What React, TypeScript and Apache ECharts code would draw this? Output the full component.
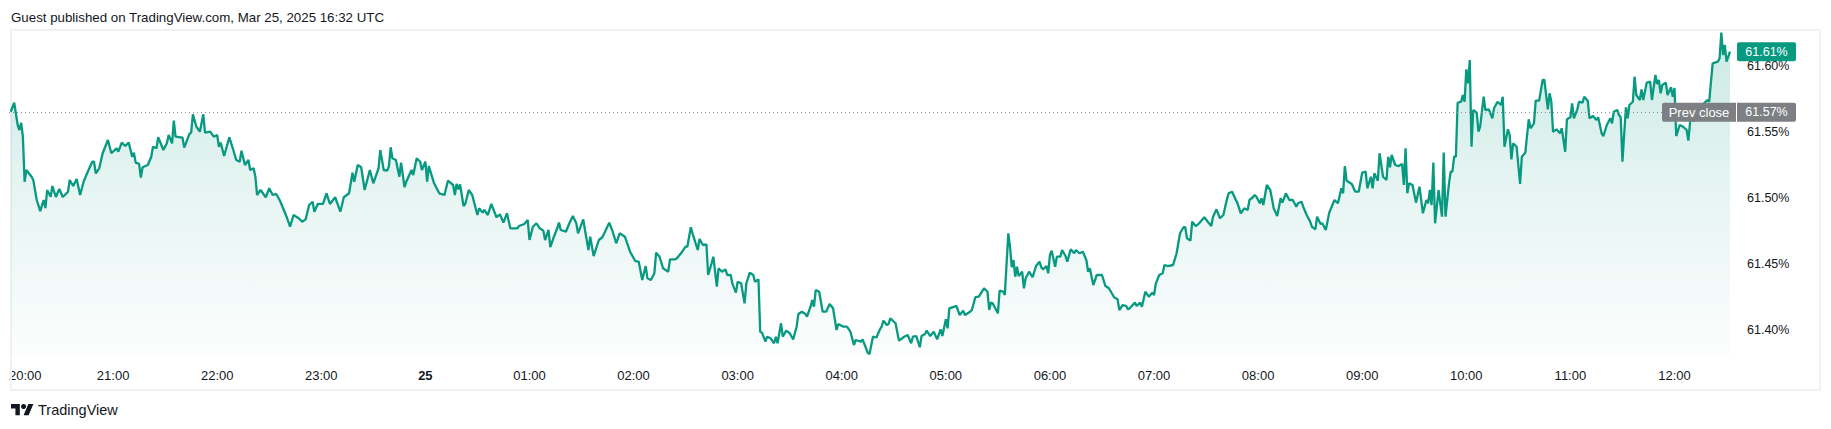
import React, { useEffect, useRef } from "react";
import * as echarts from "echarts";

// minutes after 20:00 (Mar 24) ; last point 12:32 (Mar 25)
const minutes = [
  1, 3, 5, 6, 7, 8, 9, 10, 13, 14, 16, 18, 20, 21, 22, 24, 25, 27, 29, 31, 34, 35, 37, 39, 41, 43, 45, 48, 49, 50,
  52, 54, 57, 59, 62, 63, 65, 67, 69, 71, 72, 73, 75, 76, 77, 80, 82, 83, 85, 86, 89, 91, 92, 94, 95, 96, 100, 101, 104, 105,
  106, 108, 110, 112, 113, 116, 118, 120, 121, 122, 124, 127, 129, 131, 133, 134, 136, 138, 139, 141, 142, 143, 145, 148, 150, 152, 154, 156, 158, 160,
  162, 164, 167, 169, 171, 173, 175, 176, 178, 181, 183, 185, 188, 191, 193, 196, 198, 199, 201, 203, 205, 208, 210, 213, 214, 216, 218, 219, 220, 221,
  223, 225, 226, 228, 229, 232, 233, 235, 237, 238, 240, 241, 242, 245, 248, 251, 253, 256, 257, 258, 259, 260, 262, 263, 265, 267, 270, 271, 273, 274,
  276, 278, 281, 283, 285, 287, 289, 293, 294, 297, 299, 300, 302, 304, 306, 308, 309, 311, 312, 314, 316, 317, 318, 321, 323, 325, 327, 328, 331, 332,
  334, 335, 337, 340, 342, 344, 346, 348, 350, 352, 355, 358, 361, 363, 365, 367, 368, 370, 372, 373, 375, 377, 380, 381, 384, 385, 388, 390, 391, 393,
  394, 397, 398, 400, 402, 403, 405, 406, 408, 409, 411, 413, 414, 416, 417, 419, 420, 422, 424, 425, 427, 429, 430, 432, 433, 434, 436, 437, 439, 441,
  442, 443, 445, 446, 448, 450, 452, 454, 455, 457, 459, 460, 462, 463, 464, 465, 467, 469, 471, 473, 475, 477, 478, 481, 483, 485, 487, 488, 491, 492,
  495, 496, 498, 500, 502, 503, 504, 506, 507, 508, 511, 513, 516, 518, 520, 521, 523, 525, 526, 528, 529, 531, 533, 535, 537, 538, 540, 541, 542, 545,
  546, 548, 550, 551, 554, 555, 557, 559, 562, 564, 565, 566, 567, 570, 571, 573, 574, 576, 577, 578, 579, 580, 581, 582, 584, 585, 586, 588, 590, 592,
  594, 595, 596, 598, 599, 600, 601, 603, 604, 606, 607, 609, 610, 612, 614, 615, 617, 619, 621, 622, 623, 625, 627, 630, 632, 634, 637, 639, 640, 642,
  644, 645, 646, 649, 650, 652, 653, 655, 657, 659, 660, 661, 663, 665, 666, 668, 671, 673, 675, 677, 678, 679, 681, 682, 684, 686, 688, 689, 691, 693,
  694, 696, 698, 700, 702, 703, 705, 707, 708, 710, 712, 714, 715, 717, 718, 719, 721, 722, 723, 725, 727, 729, 731, 733, 734, 736, 738, 740, 742, 743,
  745, 746, 748, 750, 751, 753, 754, 756, 757, 759, 761, 764, 766, 768, 769, 770, 771, 774, 776, 778, 780, 782, 783, 785, 786, 787, 789, 790, 792, 794,
  795, 796, 797, 799, 801, 803, 804, 805, 806, 807, 809, 811, 813, 815, 817, 818, 819, 820, 821, 822, 824, 826, 827, 828, 830, 831, 832, 833, 834, 835,
  837, 838, 839, 840, 841, 842, 843, 844, 846, 847, 848, 850, 851, 853, 855, 856, 857, 858, 860, 861, 862, 864, 865, 866, 867, 869, 871, 872, 874, 876,
  877, 879, 880, 882, 884, 885, 887, 888, 889, 890, 892, 894, 895, 897, 898, 900, 901, 902, 904, 905, 907, 908, 910, 911, 913, 915, 916, 918, 919, 921,
  923, 924, 925, 927, 928, 929, 930, 932, 933, 934, 936, 937, 938, 940, 941, 942, 944, 946, 947, 949, 950, 951, 952, 953, 955, 956, 958, 959, 960, 961,
  963, 965, 967, 968, 970, 971, 972, 974, 977, 979, 980, 982, 985, 986, 987, 988, 989, 990, 992,
];

// yield, %
const values = [
  61.5656, 61.5724, 61.5555, 61.5517, 61.5572, 61.5466, 61.5124, 61.5213, 61.5162, 61.5137, 61.4985, 61.4901, 61.4985, 61.4924, 61.5061, 61.501, 61.5091, 61.5008, 61.5069, 61.5008, 61.5048, 61.5137, 61.5091, 61.5145, 61.5023, 61.5124, 61.5188, 61.5276, 61.5276, 61.5188,
  61.5226, 61.534, 61.5441, 61.534, 61.5378, 61.5352, 61.5421, 61.5395, 61.5421, 61.5314, 61.5345, 61.5269, 61.5259, 61.5155, 61.5234, 61.5251, 61.5314, 61.539, 61.5378, 61.5462, 61.5365, 61.5416, 61.5479, 61.5416, 61.5588, 61.5466, 61.5459, 61.5383, 61.5487, 61.5497,
  61.5636, 61.5542, 61.5504, 61.5636, 61.5497, 61.5504, 61.5466, 61.5479, 61.539, 61.5421, 61.5319, 61.5462, 61.5378, 61.5289, 61.5276, 61.536, 61.5251, 61.5289, 61.5213, 61.5226, 61.5162, 61.5023, 61.5061, 61.5006, 61.5074, 61.5023, 61.5031, 61.4985, 61.4922, 61.4858,
  61.4782, 61.4871, 61.4846, 61.482, 61.4838, 61.4947, 61.4972, 61.4896, 61.4955, 61.4955, 61.5036, 61.4955, 61.5006, 61.4896, 61.5006, 61.5036, 61.5193, 61.5124, 61.5251, 61.5234, 61.5061, 61.5213, 61.5112, 61.5226, 61.5365, 61.5213, 61.5208, 61.5243, 61.5386, 61.5302,
  61.5289, 61.5162, 61.5269, 61.5082, 61.5124, 61.5213, 61.5175, 61.5302, 61.5276, 61.5213, 61.5276, 61.5124, 61.5243, 61.5112, 61.5036, 61.5023, 61.5132, 61.5099, 61.5023, 61.5107, 61.5066, 61.5104, 61.4939, 61.4955, 61.5061, 61.5023, 61.4871, 61.4922, 61.4889, 61.4909,
  61.4871, 61.4955, 61.4854, 61.4876, 61.4813, 61.4884, 61.477, 61.477, 61.4787, 61.4803, 61.4833, 61.4681, 61.4782, 61.4808, 61.477, 61.4752, 61.4681, 61.4757, 61.4626, 61.4702, 61.477, 61.4813, 61.4757, 61.4744, 61.4808, 61.4863, 61.4808, 61.4732, 61.4838, 61.4757,
  61.4605, 61.4706, 61.4559, 61.4681, 61.4702, 61.4757, 61.4813, 61.4744, 61.4656, 61.4732, 61.4706, 61.4592, 61.4521, 61.4516, 61.4377, 61.4483, 61.439, 61.4377, 61.4428, 61.4585, 61.4554, 61.4466, 61.444, 61.4534, 61.4534, 61.4542, 61.4592, 61.463, 61.463, 61.4778,
  61.4732, 61.4605, 61.4689, 61.4643, 61.4648, 61.4415, 61.4504, 61.4554, 61.4326, 61.4466, 61.444, 61.4458, 61.4415, 61.4415, 61.4347, 61.4281, 61.4364, 61.4352, 61.42, 61.4352, 61.4433, 61.4415, 61.4364, 61.4382, 61.3984, 61.3977, 61.3908, 61.3946, 61.3934, 61.3896,
  61.3946, 61.3896, 61.4048, 61.3946, 61.3992, 61.3972, 61.3926, 61.4022, 61.4119, 61.4136, 61.4119, 61.4098, 61.4174, 61.4225, 61.4174, 61.4301, 61.4288, 61.4136, 61.4136, 61.4195, 61.4162, 61.3997, 61.4043, 61.4022, 61.4022, 61.3984, 61.3883, 61.3921, 61.3908, 61.3926,
  61.3824, 61.3815, 61.3946, 61.394, 61.4002, 61.4022, 61.4068, 61.4035, 61.4043, 61.4086, 61.4048, 61.3916, 61.3946, 61.3959, 61.3896, 61.3946, 61.3951, 61.3866, 61.3951, 61.3967, 61.3992, 61.3951, 61.3984, 61.3926, 61.4002, 61.3951, 61.4078, 61.401, 61.4162, 61.4174,
  61.4182, 61.4111, 61.4144, 61.4111, 61.4136, 61.4149, 61.4246, 61.425, 61.4314, 61.4288, 61.4149, 61.4205, 61.42, 61.4124, 61.4296, 61.4288, 61.4263, 61.4732, 61.463, 61.4474, 61.4529, 61.4402, 61.4478, 61.4407, 61.444, 61.4314, 61.439, 61.444, 61.4398, 61.4483,
  61.4516, 61.4474, 61.4458, 61.4483, 61.4428, 61.4567, 61.46, 61.4478, 61.4554, 61.4554, 61.4605, 61.4559, 61.4516, 61.461, 61.458, 61.4605, 61.458, 61.4592, 61.4529, 61.444, 61.4466, 61.4339, 61.4415, 61.4415, 61.4331, 61.4314, 61.4246, 61.423, 61.4149, 61.4187,
  61.4179, 61.4154, 61.4162, 61.4205, 61.4179, 61.4205, 61.4174, 61.4288, 61.425, 61.4281, 61.4263, 61.4347, 61.4415, 61.4428, 61.4491, 61.4483, 61.4491, 61.458, 61.4732, 61.4778, 61.4778, 61.4694, 61.4676, 61.482, 61.4787, 61.4808, 61.4838, 61.4854, 61.482, 61.4787,
  61.4858, 61.4914, 61.4846, 61.4871, 61.499, 61.5036, 61.5048, 61.499, 61.4965, 61.4884, 61.4922, 61.4909, 61.4985, 61.5006, 61.5023, 61.501, 61.496, 61.4998, 61.4947, 61.5099, 61.5061, 61.4922, 61.4863, 61.4998, 61.4965, 61.5036, 61.4985, 61.4985, 61.4934, 61.496,
  61.4972, 61.4934, 61.4871, 61.482, 61.4782, 61.4762, 61.4858, 61.4803, 61.4808, 61.4757, 61.4889, 61.4985, 61.496, 61.5074, 61.5036, 61.5243, 61.5132, 61.5107, 61.5048, 61.5048, 61.5193, 61.52, 61.5074, 61.5162, 61.5074, 61.5188, 61.5132, 61.534, 61.5162, 61.5137,
  61.5314, 61.5234, 61.5327, 61.5251, 61.5243, 61.5259, 61.5099, 61.5378, 61.5036, 61.5112, 61.5099, 61.4965, 61.5086, 61.4884, 61.4985, 61.496, 61.5061, 61.4947, 61.5269, 61.4808, 61.5061, 61.4858, 61.5345, 61.4858, 61.5107, 61.52, 61.52, 61.5314, 61.5314, 61.5724,
  61.5732, 61.5783, 61.5732, 61.5978, 61.5872, 61.6049, 61.539, 61.5669, 61.5649, 61.5504, 61.5542, 61.577, 61.5669, 61.5674, 61.5606, 61.5682, 61.5707, 61.5732, 61.5707, 61.577, 61.539, 61.5522, 61.5479, 61.5294, 61.5416, 61.539, 61.5107, 61.5314, 61.5345, 61.5598,
  61.553, 61.5568, 61.574, 61.574, 61.5897, 61.5897, 61.5674, 61.5796, 61.5732, 61.5504, 61.5522, 61.5492, 61.553, 61.5352, 61.5598, 61.5614, 61.572, 61.5606, 61.5674, 61.5732, 61.5724, 61.577, 61.574, 61.5606, 61.5623, 61.5593, 61.5614, 61.5492, 61.5471, 61.5555,
  61.5606, 61.5568, 61.5656, 61.5669, 61.5631, 61.5614, 61.5276, 61.569, 61.5606, 61.5707, 61.5732, 61.5922, 61.5783, 61.5745, 61.5826, 61.5745, 61.5877, 61.5884, 61.5745, 61.5935, 61.5867, 61.5897, 61.5796, 61.5859, 61.5877, 61.5783, 61.5842, 61.577, 61.5836, 61.5471,
  61.5555, 61.5542, 61.5517, 61.5436, 61.572, 61.558, 61.5644, 61.5644, 61.572, 61.5745, 61.5732, 61.6024, 61.6036, 61.6062, 61.6257, 61.6087, 61.6163, 61.6036, 61.6112,
];

const prevClose = 61.5652;
const yTicks = [61.4, 61.45, 61.5, 61.55, 61.6];
const yMin = 61.3807;
const yMax = 61.6277;
const xMin = 0;
const xMax = 992;
const xStep = 60; // one label per hour
const startHour = 20;
const dayLabel = "25";
const titleText = "Guest published on TradingView.com, Mar 25, 2025 16:32 UTC";
const brandText = "TradingView";
const prevCloseText = "Prev close";

const FONT = '"Liberation Sans", Arial, sans-serif';
const TEXT = "#131722";
const GREEN = "#089981";
const GREY = "#7e7f84";

const LOGO_D = "M14 22H7V11H0V4h14v18zM28 22h-8l7.5-18h8L28 22z";
try {
  echarts.graphic.registerShape("tvlogo", echarts.graphic.extendPath(LOGO_D, {}) as any);
} catch (e) {
  /* already registered */
}

function timeLabel(m: number): string {
  const h = (startHour + Math.round(m / 60)) % 24;
  if (h === 0) return "{b|" + dayLabel + "}";
  return (h < 10 ? "0" : "") + h + ":00";
}

export default function App() {
  const ref = useRef<HTMLDivElement>(null);

  useEffect(() => {
    if (!ref.current) return;
    const chart = echarts.init(ref.current, undefined, { renderer: "svg" });
    const data = minutes.map((m, i) => [m, values[i]]);
    const last = values[values.length - 1];

    chart.setOption({
      animation: false,
      backgroundColor: "#ffffff",
      textStyle: { fontFamily: FONT },
      grid: { left: 9, right: 101, top: 30, bottom: 74 },
      xAxis: {
        type: "value",
        min: xMin,
        max: xMax,
        interval: xStep,
        axisLine: { show: false },
        axisTick: { show: false },
        splitLine: { show: false },
        axisLabel: {
          formatter: timeLabel,
          fontSize: 13,
          color: TEXT,
          fontFamily: FONT,
          margin: 14,
          alignMinLabel: "left",
          showMaxLabel: false,
          rich: { b: { fontWeight: "bold", fontSize: 13, color: TEXT, fontFamily: FONT } },
        },
      },
      yAxis: {
        type: "value",
        position: "right",
        min: yMin,
        max: yMax,
        axisLine: { show: false },
        axisTick: { show: false },
        splitLine: { show: false },
        axisLabel: {
          customValues: yTicks,
          formatter: (v: number) => v.toFixed(2) + "%",
          fontSize: 12.5,
          color: TEXT,
          fontFamily: FONT,
          margin: 17,
        },
      },
      series: [
        {
          type: "line",
          data,
          showSymbol: false,
          symbol: "none",
          z: 2,
          lineStyle: { color: GREEN, width: 2.3 },
          itemStyle: { color: GREEN },
          areaStyle: {
            color: new echarts.graphic.LinearGradient(0, 0, 0, 1, [
              { offset: 0, color: "rgba(8,153,129,0.30)" },
              { offset: 0.5, color: "rgba(8,153,129,0.14)" },
              { offset: 1, color: "rgba(8,153,129,0.02)" },
            ]),
          },
          markLine: {
            silent: true,
            precision: 4,
            symbol: ["none", "none"],
            label: { show: false },
            lineStyle: { color: "#8a8d96", width: 1, type: [1, 3] },
            data: [{ yAxis: prevClose }],
          },
        },
      ],
    });

    const yLast = chart.convertToPixel({ yAxisIndex: 0 }, last) as number;
    const yPrev = chart.convertToPixel({ yAxisIndex: 0 }, prevClose) as number;
    const xRight = chart.convertToPixel({ xAxisIndex: 0 }, xMax) as number;
    const bx = xRight + 7;
    const bw = 59;
    const bh = 19;

    chart.setOption({
      graphic: [
        {
          type: "rect",
          silent: true,
          z: 1,
          shape: { x: 11, y: 30, width: 1809, height: 360 },
          style: { fill: "none", stroke: "#f0f1f3", lineWidth: 2 },
        },
        {
          type: "text",
          z: 20,
          x: 11,
          y: 17.5,
          style: { text: titleText, fontSize: 13.3, fontFamily: FONT, fill: TEXT, verticalAlign: "middle", align: "left" },
        },
        {
          type: "group",
          z: 20,
          children: [
            {
              type: "rect",
              z: 20,
              shape: { x: bx, y: yLast - bh / 2, width: bw, height: bh, r: 2 },
              style: { fill: GREEN },
            },
            {
              type: "text",
              z: 21,
              x: bx + bw / 2,
              y: yLast,
              style: { text: last.toFixed(2) + "%", fontSize: 12.5, fontFamily: FONT, fill: "#ffffff", align: "center", verticalAlign: "middle" },
            },
            {
              type: "rect",
              z: 20,
              shape: { x: xRight - 68, y: yPrev - bh / 2, width: 74, height: bh, r: [2, 0, 0, 2] },
              style: { fill: GREY },
            },
            {
              type: "text",
              z: 21,
              x: xRight - 31,
              y: yPrev,
              style: { text: prevCloseText, fontSize: 13, fontFamily: FONT, fill: "#ffffff", align: "center", verticalAlign: "middle" },
            },
            {
              type: "rect",
              z: 20,
              shape: { x: bx, y: yPrev - bh / 2, width: bw, height: bh, r: [0, 2, 2, 0] },
              style: { fill: GREY },
            },
            {
              type: "text",
              z: 21,
              x: bx + bw / 2,
              y: yPrev,
              style: { text: prevClose.toFixed(2) + "%", fontSize: 12.5, fontFamily: FONT, fill: "#ffffff", align: "center", verticalAlign: "middle" },
            },
          ],
        },
        {
          type: "tvlogo",
          z: 20,
          x: 11,
          y: 401.5,
          scaleX: 0.63,
          scaleY: 0.63,
          style: { fill: TEXT },
        },
        {
          type: "circle",
          z: 20,
          shape: { cx: 11 + 20 * 0.63, cy: 401.5 + 8 * 0.63, r: 4 * 0.63 },
          style: { fill: TEXT },
        },
        {
          type: "text",
          z: 20,
          x: 38,
          y: 410,
          style: { text: brandText, fontSize: 14.5, fontFamily: FONT, fill: TEXT, verticalAlign: "middle", align: "left" },
        },
      ],
    });

    return () => chart.dispose();
  }, []);

  return (
    <div
      ref={ref}
      style={{ position: "fixed", left: 0, top: 0, width: 1831, height: 429, background: "#ffffff" }}
    />
  );
}
